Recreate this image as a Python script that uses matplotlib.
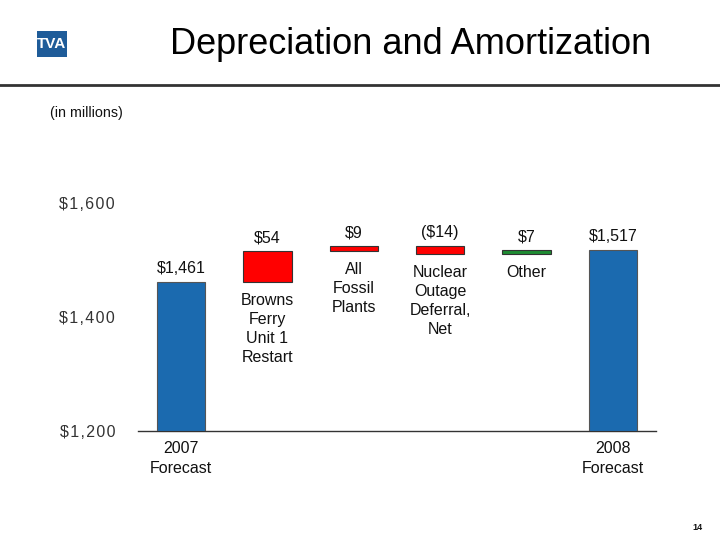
import matplotlib
matplotlib.use("Agg")
import matplotlib.pyplot as plt
from matplotlib.patches import Rectangle
from matplotlib.lines import Line2D

plt.rcParams['font.family'] = ['Liberation Sans', 'DejaVu Sans']

categories = ["2007\nForecast", "Browns\nFerry\nUnit 1\nRestart", "All\nFossil\nPlants",
              "Nuclear\nOutage\nDeferral,\nNet", "Other", "2008\nForecast"]
start_total = 1461
changes = [54, 9, -14, 7]
end_total = 1517
value_labels = ["$1,461", "$54", "$9", "($14)", "$7", "$1,517"]
change_colors = ["#FF0000", "#FF0000", "#FF0000", "#1E8C32"]
yticks = [1200, 1400, 1600]
ytick_labels = ["$1,200", "$1,400", "$1,600"]

W, H = 720, 540
fig = plt.figure(figsize=(7.2, 5.4), dpi=100)

left, right, bottom_px, top_px = 138, 656, 431, 203
ax = fig.add_axes([left / W, (H - bottom_px) / H, (right - left) / W, (bottom_px - top_px) / H])
ax.set_xlim(-0.5, 5.5)
ax.set_ylim(1200, 1600)

blue = "#1B6AAF"
bw = 0.56
ax.bar([0], [start_total - 1200], bottom=1200, width=bw, color=blue, edgecolor="#555555", linewidth=0.8, zorder=3)
ax.bar([5], [end_total - 1200], bottom=1200, width=bw, color=blue, edgecolor="#555555", linewidth=0.8, zorder=3)

running = start_total
tops = [start_total]
bottoms = [1200]
for i, (c, col) in enumerate(zip(changes, change_colors)):
    lo, hi = min(running, running + c), max(running, running + c)
    ax.bar([i + 1], [hi - lo], bottom=lo, width=bw, color=col, edgecolor="#333333", linewidth=0.8, zorder=3)
    tops.append(hi)
    bottoms.append(lo)
    running += c
tops.append(end_total)
bottoms.append(1200)

fs = 11.5
for i, lab in enumerate(value_labels):
    ax.annotate(lab, (i, tops[i]), xytext=(0, 4.5), textcoords="offset points",
                ha="center", va="bottom", fontsize=fs, color="#111111")

for i in range(1, 5):
    ax.annotate(categories[i], (i, bottoms[i]), xytext=(0, -7.5), textcoords="offset points",
                ha="center", va="top", fontsize=fs, color="#111111", linespacing=1.35)

for i in (0, 5):
    ax.annotate(categories[i], (i, 1200), xytext=(0, -7.5), textcoords="offset points",
                ha="center", va="top", fontsize=fs, color="#111111", linespacing=1.35)

ax.set_yticks(yticks)
ax.set_yticklabels(["\u200a".join(t) for t in ytick_labels], fontsize=11.5, color="#333333")
ax.tick_params(axis="y", length=0, pad=16.5)
ax.set_xticks([])
for s in ["left", "right", "top"]:
    ax.spines[s].set_visible(False)
ax.spines["bottom"].set_color("#333333")
ax.spines["bottom"].set_linewidth(1.0)

fig.text(411 / W, 1 - 44 / H, "Depreciation and Amortization", ha="center", va="center",
         fontsize=26, color="black")
fig.add_artist(Line2D([0, 1], [1 - 85 / H, 1 - 85 / H], color="#333333", linewidth=2.0))

fig.add_artist(Rectangle((37 / W, 1 - 57 / H), 30 / W, 26 / H, facecolor="#1F5C99", edgecolor="none"))
fig.text(52 / W, 1 - 44 / H, "TVA", ha="center", va="center", fontsize=11, fontweight="bold",
         color="white", fontstretch="condensed", family=["Liberation Sans Narrow", "Liberation Sans"])

fig.text(86 / W, 1 - 113 / H, "(in millions)", ha="center", va="center", fontsize=10.3, color="#111111")
fig.text(697 / W, 1 - 527 / H, "14", ha="center", va="center", fontsize=6.5, fontweight="bold", color="#111111")

fig.savefig("out.png", dpi=100, facecolor="white")
